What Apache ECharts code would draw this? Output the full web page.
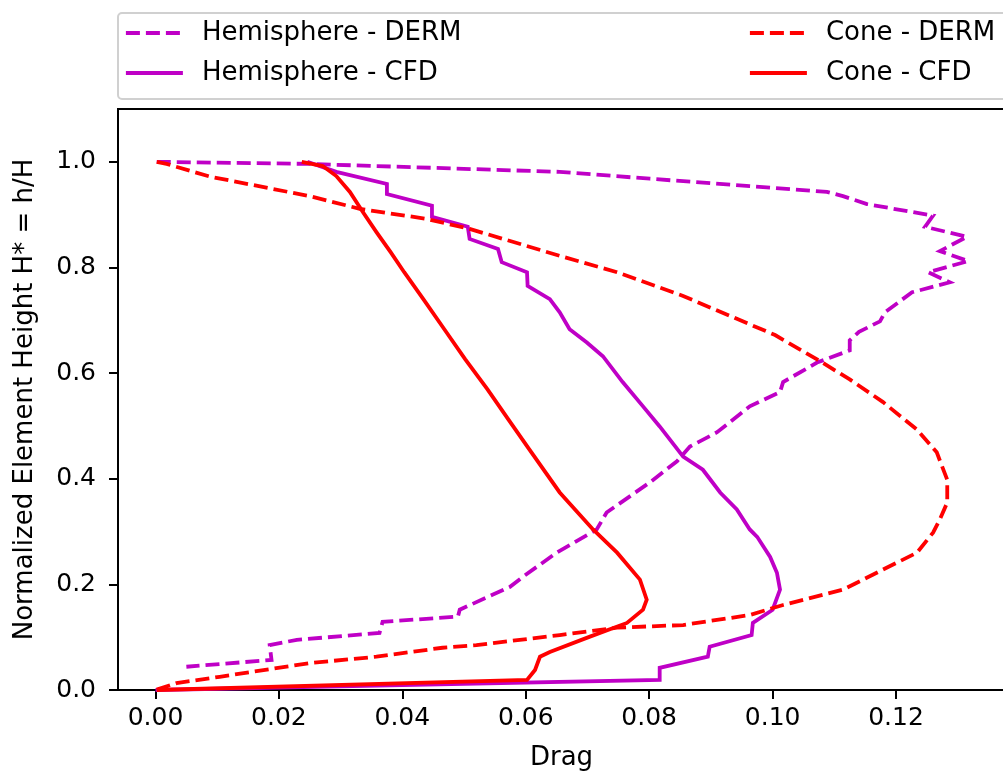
<!DOCTYPE html>
<html>
<head>
<meta charset="utf-8">
<script src="https://cdn.jsdelivr.net/npm/echarts@6/dist/echarts.min.js"></script>
<style>
  html, body { margin: 0; padding: 0; background: #ffffff; }
  #chart { width: 1003px; height: 773px; }
</style>
</head>
<body>
<div id="chart"></div>
<script>
// Series names (legend order: column by column)
const seriesNames = ['Hemisphere - DERM', 'Hemisphere - CFD', 'Cone - DERM', 'Cone - CFD'];

// Hemisphere, DERM model
const hemiDermDrag = [0.0002, 0.025, 0.0655, 0.0801, 0.0963, 0.1088, 0.1114, 0.1153, 0.126, 0.1247, 0.1315, 0.1271, 0.1317, 0.1252, 0.1287, 0.1226, 0.1182, 0.1174, 0.1140, 0.1125, 0.1125, 0.1072, 0.1017, 0.1012, 0.0963, 0.091, 0.0866, 0.0845, 0.0801, 0.0731, 0.0715, 0.065, 0.0595, 0.0574, 0.0493, 0.049, 0.0368, 0.0363, 0.0229, 0.0185, 0.0188, 0.005];
const hemiDermHeight = [1.0, 0.996, 0.981, 0.968, 0.954, 0.943, 0.935, 0.920, 0.898, 0.877, 0.858, 0.831, 0.812, 0.791, 0.772, 0.753, 0.715, 0.698, 0.678, 0.662, 0.643, 0.620, 0.583, 0.564, 0.537, 0.488, 0.461, 0.433, 0.393, 0.336, 0.304, 0.260, 0.214, 0.195, 0.152, 0.139, 0.129, 0.108, 0.095, 0.085, 0.057, 0.044];

// Hemisphere, CFD
const hemiCfdDrag = [0.0246, 0.0293, 0.0375, 0.0375, 0.0448, 0.0448, 0.0506, 0.0509, 0.0555, 0.0561, 0.0602, 0.0603, 0.0639, 0.0655, 0.0671, 0.0699, 0.0725, 0.0757, 0.079, 0.0817, 0.0855, 0.0887, 0.0915, 0.0942, 0.0963, 0.0975, 0.0996, 0.1007, 0.1012, 0.1, 0.0968, 0.0966, 0.0898, 0.0895, 0.0817, 0.0817, 0.0];
const hemiCfdHeight = [1.0, 0.981, 0.958, 0.939, 0.917, 0.896, 0.877, 0.854, 0.835, 0.810, 0.791, 0.765, 0.740, 0.715, 0.683, 0.658, 0.632, 0.583, 0.537, 0.499, 0.442, 0.417, 0.374, 0.342, 0.304, 0.290, 0.252, 0.222, 0.190, 0.152, 0.127, 0.104, 0.082, 0.063, 0.042, 0.019, 0.0];

// Cone, DERM model
const coneDermDrag = [0.0002, 0.0018, 0.0088, 0.025, 0.0331, 0.0439, 0.0509, 0.0655, 0.0748, 0.0855, 0.1004, 0.1072, 0.1125, 0.1179, 0.1234, 0.1266, 0.1283, 0.1283, 0.1271, 0.126, 0.1234, 0.1179, 0.1114, 0.1017, 0.0963, 0.0855, 0.0748, 0.0655, 0.052, 0.0465, 0.0358, 0.025, 0.0104, 0.0034, 0.0];
const coneDermHeight = [1.0, 0.996, 0.972, 0.935, 0.911, 0.892, 0.873, 0.822, 0.791, 0.746, 0.672, 0.626, 0.588, 0.545, 0.493, 0.450, 0.398, 0.355, 0.323, 0.298, 0.260, 0.228, 0.190, 0.161, 0.142, 0.123, 0.118, 0.104, 0.085, 0.080, 0.063, 0.051, 0.025, 0.013, 0.0];

// Cone, CFD
const coneCfdDrag = [0.0237, 0.0271, 0.0293, 0.0315, 0.0336, 0.0358, 0.0381, 0.0403, 0.0434, 0.0468, 0.0502, 0.0538, 0.0572, 0.0606, 0.0655, 0.0709, 0.0748, 0.0785, 0.0796, 0.079, 0.0764, 0.0704, 0.0639, 0.0623, 0.0615, 0.0602, 0.0002];
const coneCfdHeight = [1.0, 0.992, 0.973, 0.943, 0.905, 0.867, 0.829, 0.791, 0.740, 0.683, 0.626, 0.569, 0.512, 0.455, 0.374, 0.304, 0.260, 0.209, 0.171, 0.152, 0.127, 0.101, 0.072, 0.063, 0.038, 0.019, 0.0];

// Axis ticks
const xTickValues = [0.00, 0.02, 0.04, 0.06, 0.08, 0.10, 0.12];
const yTickValues = [0.0, 0.2, 0.4, 0.6, 0.8, 1.0];

const MAGENTA = '#bf00c6';
const RED = '#ff0000';
const FONT = 'DejaVu Sans';
const LINE_WIDTH = 3.8;

function pairs(xs, ys) {
  return xs.map((x, i) => [x, ys[i]]);
}

const dash = [14, 6];
function lineSeries(name, xs, ys, color, dashed) {
  return {
    name: name,
    type: 'line',
    data: pairs(xs, ys),
    showSymbol: false,
    symbol: 'none',
    smooth: false,
    clip: true,
    lineStyle: { color: color, width: LINE_WIDTH, type: dashed ? dash : 'solid', cap: 'butt', join: 'miter' },
    itemStyle: { color: color },
    emphasis: { disabled: true }
  };
}

const chart = echarts.init(document.getElementById('chart'), null, { renderer: 'canvas' });

function legendColumn(left, names) {
  return {
    orient: 'vertical',
    left: left,
    top: 18,
    itemWidth: 57,
    itemHeight: 14,
    itemGap: 10,
    padding: 0,
    selectedMode: false,
    data: names,
    itemStyle: { opacity: 0 },
    lineStyle: { width: LINE_WIDTH },
    textStyle: { fontFamily: FONT, fontSize: 26, color: '#000', lineHeight: 30, padding: [0, 0, 0, 14] }
  };
}

chart.setOption({
  animation: false,
  backgroundColor: '#ffffff',
  textStyle: { fontFamily: FONT },
  grid: {
    left: 118,
    top: 109,
    width: 887,
    height: 581,
    outerBoundsMode: 'none',
    show: true,
    borderColor: '#000',
    borderWidth: 2,
    backgroundColor: 'transparent'
  },
  legend: [
    legendColumn(124, [seriesNames[0], seriesNames[1]]),
    legendColumn(748, [seriesNames[2], seriesNames[3]])
  ],
  graphic: [{
    type: 'rect',
    left: 117,
    top: 12,
    shape: { width: 960, height: 86, r: 4 },
    style: { fill: '#ffffff', stroke: '#d0d0d0', lineWidth: 2 },
    z: -1
  }],
  xAxis: {
    type: 'value',
    min: -0.00608,
    max: 0.13766,
    name: 'Drag',
    nameLocation: 'middle',
    nameGap: 55,
    nameTextStyle: { fontFamily: FONT, fontSize: 26, color: '#000' },
    axisLine: { show: true, onZero: false, lineStyle: { color: '#000', width: 2 } },
    axisTick: { show: true, length: 9, lineStyle: { color: '#000', width: 2 }, customValues: xTickValues },
    axisLabel: {
      fontFamily: FONT, fontSize: 25, color: '#000', margin: 16,
      customValues: xTickValues,
      formatter: v => v.toFixed(2)
    },
    splitLine: { show: false }
  },
  yAxis: {
    type: 'value',
    min: 0,
    max: 1.1,
    name: 'Normalized Element Height H* = h/H',
    nameLocation: 'middle',
    nameGap: 80,
    nameRotate: 90,
    nameTextStyle: { fontFamily: FONT, fontSize: 26, color: '#000' },
    axisLine: { show: true, onZero: false, lineStyle: { color: '#000', width: 2 } },
    axisTick: { show: true, length: 9, lineStyle: { color: '#000', width: 2 }, customValues: yTickValues },
    axisLabel: {
      fontFamily: FONT, fontSize: 25, color: '#000', margin: 22,
      customValues: yTickValues,
      formatter: v => v.toFixed(1)
    },
    splitLine: { show: false }
  },
  series: [
    lineSeries(seriesNames[0], hemiDermDrag, hemiDermHeight, MAGENTA, true),
    lineSeries(seriesNames[1], hemiCfdDrag, hemiCfdHeight, MAGENTA, false),
    lineSeries(seriesNames[2], coneDermDrag, coneDermHeight, RED, true),
    lineSeries(seriesNames[3], coneCfdDrag, coneCfdHeight, RED, false)
  ]
});
</script>
</body>
</html>
